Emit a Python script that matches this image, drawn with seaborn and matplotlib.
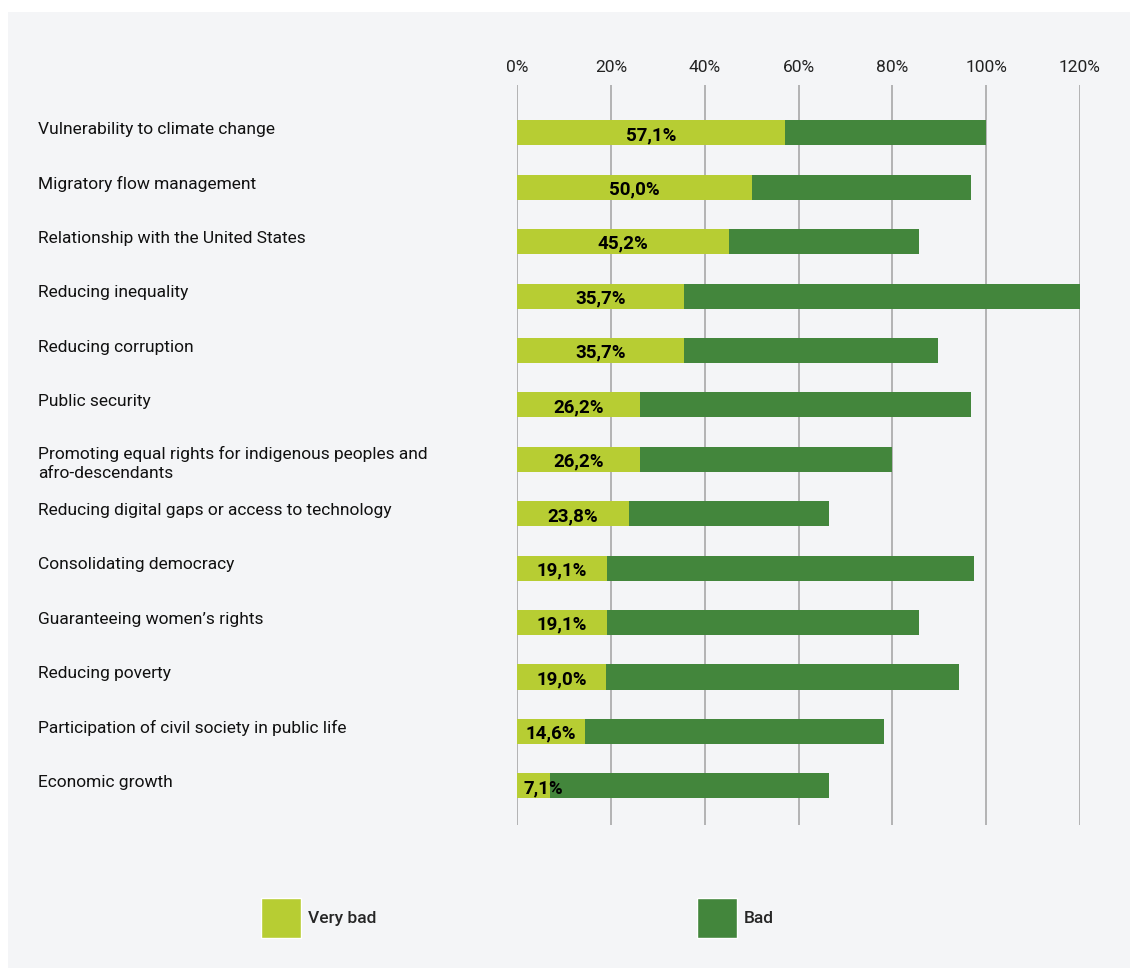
import matplotlib
matplotlib.use("Agg")
import matplotlib.pyplot as plt
from matplotlib.patches import Patch, Rectangle
import seaborn as sns
import pandas as pd

# Share of respondents rating each area, in percent
categories = [
    "Vulnerability to climate change",
    "Migratory flow management",
    "Relationship with the United States",
    "Reducing inequality",
    "Reducing corruption",
    "Public security",
    "Promoting equal rights for indigenous peoples and\nafro-descendants",
    "Reducing digital gaps or access to technology",
    "Consolidating democracy",
    "Guaranteeing women\u2019s rights",
    "Reducing poverty",
    "Participation of civil society in public life",
    "Economic growth",
]
very_bad = [57.1, 50.0, 45.2, 35.7, 35.7, 26.2, 26.2, 23.8, 19.1, 19.1, 19.0, 14.6, 7.1]
bad = [42.9, 46.8, 40.5, 84.3, 54.0, 70.6, 53.8, 42.7, 78.3, 66.6, 75.2, 63.6, 59.4]
tick_values = [0, 20, 40, 60, 80, 100, 120]
tick_labels = ["0%", "20%", "40%", "60%", "80%", "100%", "120%"]

LIGHT = "#b7cd33"
DARK = "#43863c"
PANEL = "#f4f5f7"

df = pd.DataFrame({"category": categories, "very_bad": very_bad, "bad": bad})
df["total"] = df["very_bad"] + df["bad"]

sns.set_theme(style="white")
plt.rcParams["font.family"] = ["Roboto", "DejaVu Sans"]

W, H = 1130, 969
fig = plt.figure(figsize=(W / 100, H / 100), dpi=100)
fig.patch.set_facecolor("white")
# light grey card behind everything
fig.patches.append(Rectangle((8 / W, 1 - 968 / H), (1130 - 8) / W, (968 - 12) / H,
                             transform=fig.transFigure, facecolor=PANEL,
                             edgecolor="none", zorder=-10))

ax = fig.add_axes([517 / W, 1 - 825 / H, (1080 - 517) / W, (825 - 85) / H])
ax.patch.set_alpha(0)

sns.barplot(data=df, x="total", y="category", orient="h", color=DARK,
            width=0.46, saturation=1, linewidth=0, ax=ax, zorder=3)
sns.barplot(data=df, x="very_bad", y="category", orient="h", color=LIGHT,
            width=0.46, saturation=1, linewidth=0, ax=ax, zorder=4)

n = len(categories)
ax.set_xlim(0, 120)
ax.set_ylim(n - 1 + 0.72, -0.88)
ax.set_xticks(tick_values)
ax.set_xticklabels(tick_labels, fontsize=12.5, color="#222222")
ax.xaxis.tick_top()
ax.tick_params(axis="x", length=0, pad=7)
ax.set_yticks([])
ax.set_xlabel("")
ax.set_ylabel("")
for s in ax.spines.values():
    s.set_visible(False)
for v in tick_values:
    ax.axvline(v, color="#a8a8a8", lw=1.2, zorder=1)

# value labels inside the light segment
for i, v in enumerate(very_bad):
    xpos = max(v / 2, 5.6)
    ax.text(xpos, i + 0.04, f"{v:.1f}%".replace(".", ","), ha="center", va="center",
            fontsize=13.5, fontweight="bold", color="black", zorder=6)

# category names, left-aligned at the card's inner margin
trans = matplotlib.transforms.blended_transform_factory(fig.transFigure, ax.transData)
for i, c in enumerate(categories):
    dy = 0.08 if "\n" in c else -0.06
    ax.text(38 / W, i + dy, c, transform=trans, ha="left", va="center",
            fontsize=12.5, color="#111111", linespacing=1.3, clip_on=False)

handles = [Patch(facecolor=LIGHT, label="Very bad"), Patch(facecolor=DARK, label="Bad")]
leg = fig.legend(handles=handles, loc="center left", bbox_to_anchor=(245 / W, 1 - 918 / H),
                 ncol=2, frameon=False, fontsize=12.5, handlelength=2.3, handleheight=3.2,
                 handletextpad=0.4, columnspacing=18.5)
for t in leg.get_texts():
    t.set_fontweight("medium")

fig.savefig("out.png", dpi=100, facecolor="white")
